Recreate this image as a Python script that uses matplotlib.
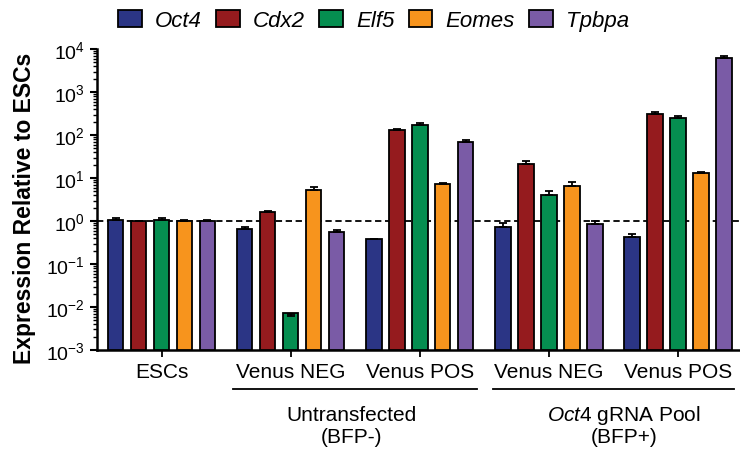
import numpy as np
import matplotlib.pyplot as plt
from matplotlib.patches import Patch
from matplotlib.transforms import blended_transform_factory

plt.rcParams['font.family'] = ['Liberation Sans', 'DejaVu Sans']
plt.rcParams['mathtext.fontset'] = 'custom'
plt.rcParams['mathtext.rm'] = 'Liberation Sans'
plt.rcParams['mathtext.it'] = 'Liberation Sans:italic'

groups = ["ESCs", "Venus NEG", "Venus POS", "Venus NEG", "Venus POS"]
genes = ["Oct4", "Cdx2", "Elf5", "Eomes", "Tpbpa"]
colors = ["#2B3585", "#951B1E", "#058E50", "#F7941D", "#7A5BA6"]

# expression per gene across the five groups
oct4 = [1.05, 0.67, 0.38, 0.74, 0.42]
cdx2 = [1.0, 1.6, 131, 21, 309]
elf5 = [1.05, 0.0062, 174, 4.0, 252]
eomes = [1.0, 5.4, 7.4, 6.5, 13]
tpbpa = [1.0, 0.57, 71, 0.87, 6200]

# upper error (same units)
oct4_err = [0.1, 0.06, 0.01, 0.15, 0.07]
cdx2_err = [0.03, 0.12, 8, 4, 30]
elf5_err = [0.1, 0.0008, 20, 0.9, 30]
eomes_err = [0.05, 0.8, 0.3, 1.6, 0.5]
tpbpa_err = [0.06, 0.06, 5, 0.15, 700]

values = [oct4, cdx2, elf5, eomes, tpbpa]
errors = [oct4_err, cdx2_err, elf5_err, eomes_err, tpbpa_err]

fig = plt.figure(figsize=(7.4, 4.52), dpi=100)
ax = fig.add_axes([0.131, 0.2235, 0.869, 0.6655])

x = np.arange(len(groups))
step = 0.178
width = 0.12
for i, (vals, errs) in enumerate(zip(values, errors)):
    pos = x + (i - 2) * step
    ax.bar(pos, vals, width, bottom=1e-3, color=colors[i], edgecolor='black',
           linewidth=1.3, zorder=3)
    ax.errorbar(pos, vals, yerr=[np.zeros(len(errs)), errs], fmt='none',
                ecolor='black', elinewidth=1.3, capsize=3, capthick=1.3, zorder=4)

ax.set_yscale('log')
ax.set_ylim(1e-3, 1e4)
ax.set_xlim(-0.5, 4.48)
ax.axhline(1, color='black', linestyle=(0, (3.5, 2)), linewidth=1.3, zorder=2)

ax.set_yticks([10.0 ** k for k in range(-3, 5)])
ax.set_yticklabels([r'$\mathregular{10^{%d}}$' % k for k in range(-3, 5)])
ax.set_xticks(x)
ax.set_xticklabels(groups)
ax.tick_params(axis='y', labelsize=14, width=1.5, length=5, color='black')
ax.tick_params(axis='y', which='minor', length=3, width=1)
ax.tick_params(axis='x', labelsize=15, length=5, width=1.3, pad=4)

for s in ['top', 'right']:
    ax.spines[s].set_visible(False)
ax.spines['left'].set_linewidth(1.8)
ax.spines['bottom'].set_linewidth(1.8)

ax.set_ylabel("Expression Relative to ESCs", fontsize=16.5, fontweight='bold')
ax.yaxis.set_label_coords(-0.095, 0.475)

# group brackets
trans = blended_transform_factory(ax.transData, ax.transAxes)
for a, b in [(0.55, 2.44), (2.57, 4.43)]:
    ax.plot([a, b], [-0.13, -0.13], color='black', lw=1.3,
            transform=trans, clip_on=False)
ax.text(1.47, -0.216, "Untransfected", transform=trans, ha='center',
        va='center', fontsize=15)
ax.text(1.47, -0.286, "(BFP-)", transform=trans, ha='center',
        va='center', fontsize=15)
ax.text(3.58, -0.216, r"$\mathit{Oct4}$ gRNA Pool", transform=trans,
        ha='center', va='center', fontsize=15)
ax.text(3.58, -0.286, "(BFP+)", transform=trans, ha='center',
        va='center', fontsize=15)

handles = [Patch(facecolor=c, edgecolor='black', linewidth=1.3) for c in colors]
leg = fig.legend(handles, genes, loc='center', bbox_to_anchor=(0.505, 0.952),
                 ncol=5, frameon=False, fontsize=16, handlelength=1.05,
                 handleheight=0.8, handletextpad=0.6, columnspacing=0.65,
                 borderpad=0, borderaxespad=0)
for t in leg.get_texts():
    t.set_fontstyle('italic')

fig.savefig('out.png', dpi=100)
